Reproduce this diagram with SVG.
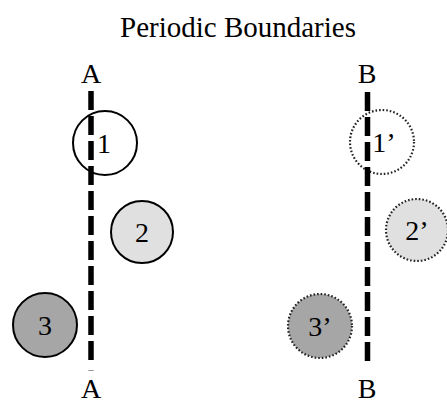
<svg xmlns="http://www.w3.org/2000/svg" width="447" height="405" viewBox="0 0 447 405">
<style>
text{font-family:"Liberation Serif","Times New Roman",serif;fill:#000;text-anchor:middle}
.t{font-size:28px}
.h{font-size:29px}
.solid{stroke:#000;stroke-width:2}
.dot{stroke:#222;stroke-width:2.2;stroke-dasharray:1.6 2}
.bd{stroke:#000;stroke-width:5.5;stroke-dasharray:19 6;fill:none}
</style>
<rect width="447" height="405" fill="#fff"/>
<text class="h" x="238" y="37">Periodic Boundaries</text>
<g id="nodeA-top"><text class="t" x="91" y="83">A</text></g>
<g id="nodeA-bottom"><text class="t" x="91" y="398">A</text></g>
<g id="nodeB-top"><text class="t" x="367" y="83">B</text></g>
<g id="nodeB-bottom"><text class="t" x="367" y="398">B</text></g>
<g id="n1"><circle class="solid" cx="105" cy="143" r="32" fill="#fff"/></g>
<g id="n2"><circle class="solid" cx="142" cy="232" r="31" fill="#e0e0e0"/><text class="t" x="142" y="242">2</text></g>
<g id="n3"><circle class="solid" cx="45" cy="325" r="32" fill="#a6a6a6"/><text class="t" x="45" y="335">3</text></g>
<g id="n1p"><circle class="dot" cx="382" cy="142" r="32" fill="#fff"/></g>
<g id="n2p"><circle class="dot" cx="417" cy="230" r="31" fill="#e0e0e0"/><text class="t" x="417" y="240">2’</text></g>
<g id="n3p"><circle class="dot" cx="320" cy="326" r="32" fill="#a6a6a6"/><text class="t" x="320" y="336">3’</text></g>
<g id="connectors">
<line class="bd" x1="91" y1="91" x2="91" y2="366"/>
<line x1="91" y1="370" x2="91" y2="371" stroke="#000" stroke-width="5.5" opacity="0.4"/>
<line class="bd" x1="367.5" y1="92" x2="367.5" y2="366"/>
</g>
<text class="t" x="104" y="153">1</text>
<text class="t" x="384" y="152">1’</text>
</svg>
